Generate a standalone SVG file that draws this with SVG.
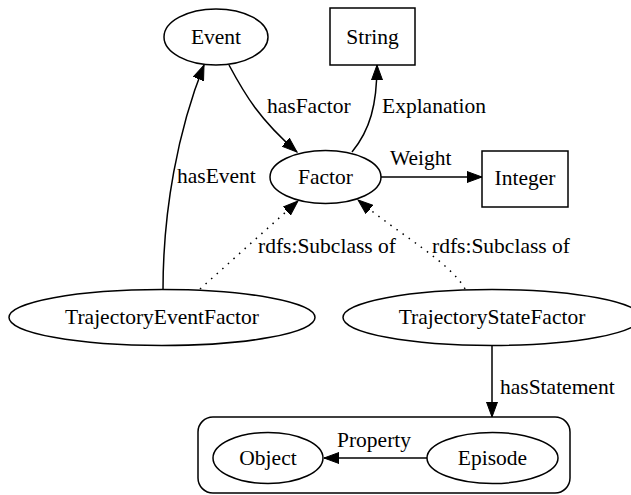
<svg xmlns="http://www.w3.org/2000/svg" width="631" height="495" viewBox="0 0 631 495">
<defs>
<style>
.n{fill:none;stroke:#000;stroke-width:1.5}
.t{font-family:"Liberation Serif","Times New Roman",serif;font-size:21.5px;fill:#000}
.m{text-anchor:middle}
.e{fill:none;stroke:#000;stroke-width:1.5}
.d{fill:none;stroke:#000;stroke-width:1.5;stroke-dasharray:1.5 6}
</style>
<marker id="ah" markerUnits="userSpaceOnUse" markerWidth="16" markerHeight="12" viewBox="0 0 16 12" refX="15" refY="6" orient="auto">
<path d="M0,0.5 L15,6 L0,11.5 Z" fill="#000" stroke="#000" stroke-width="1"/>
</marker>
</defs>
<rect width="631" height="495" fill="#fff"/>
<g id="connectors">
<path class="e" d="M163,290 C163,210 178,130 204,65" marker-end="url(#ah)"/>
<path class="e" d="M229,65 C245,95 260,120 297,152" marker-end="url(#ah)"/>
<path class="e" d="M352,152 C370,130 377,105 377,65" marker-end="url(#ah)"/>
<path class="e" d="M381,177 L482,177" marker-end="url(#ah)"/>
<path class="d" d="M200,289 L298,201" marker-end="url(#ah)"/>
<path class="d" d="M465,289 C450,262 400,235 358,200" marker-end="url(#ah)"/>
<path class="e" d="M492,346 L492,417" marker-end="url(#ah)"/>
<path class="e" d="M427,458 L324,458" marker-end="url(#ah)"/>
<text class="t" x="177" y="183">hasEvent</text>
<text class="t" x="267" y="113">hasFactor</text>
<text class="t" x="382" y="113">Explanation</text>
<text class="t" x="390" y="165">Weight</text>
<text class="t" x="258" y="253">rdfs:Subclass of</text>
<text class="t" x="432" y="253">rdfs:Subclass of</text>
<text class="t" x="500" y="394">hasStatement</text>
<text class="t" x="337" y="447">Property</text>
</g>
<g id="cluster">
<rect class="n" x="198" y="417" width="372" height="76" rx="15"/>
</g>
<g id="Event">
<ellipse class="n" cx="216" cy="37" rx="52" ry="28"/>
<text class="t m" x="216" y="44">Event</text>
</g>
<g id="String">
<rect class="n" x="330" y="8" width="85" height="57"/>
<text class="t m" x="372.5" y="44">String</text>
</g>
<g id="Factor">
<ellipse class="n" cx="325.5" cy="177" rx="55.5" ry="26.5"/>
<text class="t m" x="325.5" y="184">Factor</text>
</g>
<g id="Integer">
<rect class="n" x="482" y="151" width="86" height="56"/>
<text class="t m" x="525" y="185">Integer</text>
</g>
<g id="TrajectoryEventFactor">
<ellipse class="n" cx="162" cy="317.5" rx="153" ry="28"/>
<text class="t m" x="162" y="324">TrajectoryEventFactor</text>
</g>
<g id="TrajectoryStateFactor">
<ellipse class="n" cx="492" cy="317.5" rx="149" ry="28"/>
<text class="t m" x="492" y="324">TrajectoryStateFactor</text>
</g>
<g id="Object">
<ellipse class="n" cx="268" cy="458" rx="55" ry="25.5"/>
<text class="t m" x="268" y="465">Object</text>
</g>
<g id="Episode">
<ellipse class="n" cx="492.5" cy="458" rx="65.5" ry="25.5"/>
<text class="t m" x="492.5" y="465">Episode</text>
</g>
</svg>
